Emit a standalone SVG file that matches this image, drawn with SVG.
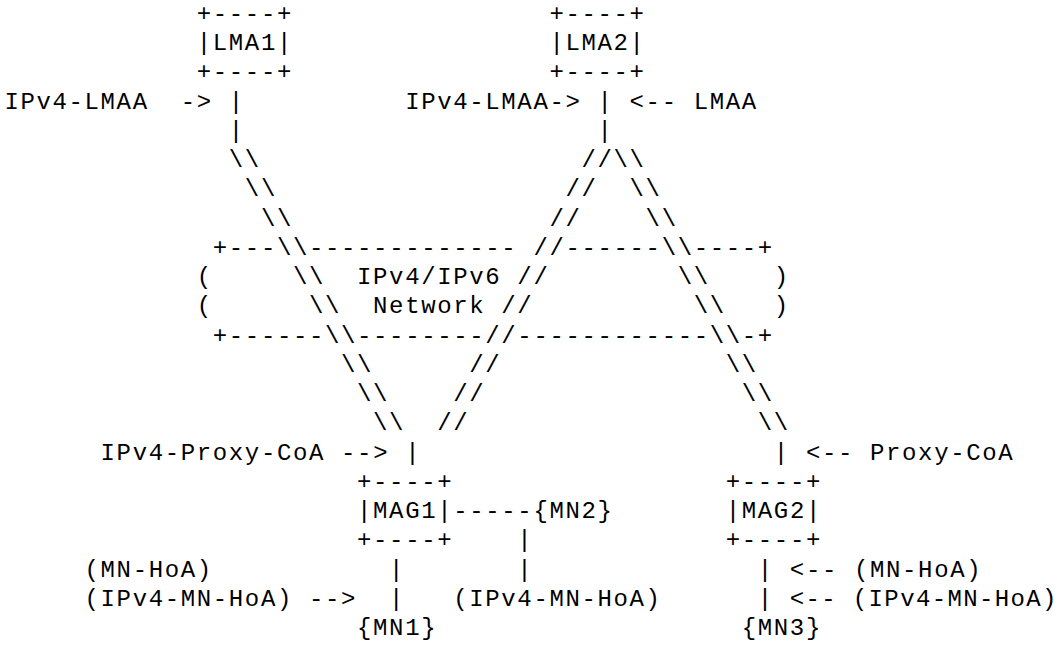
<svg xmlns="http://www.w3.org/2000/svg" width="1059" height="646" viewBox="0 0 1059 646">
<style>
text{font-family:"Liberation Mono","Courier New",monospace;font-size:24px;letter-spacing:1.63px;fill:#000;white-space:pre}
text.tight{letter-spacing:1.35px}
</style>
<rect width="1059" height="646" fill="#fff"/>
<g id="LMA1">
<text x="196.76" y="20.75">+----+</text>
<text x="196.76" y="50">|LMA1|</text>
<text x="196.76" y="79.25">+----+</text>
</g>
<g id="LMA2">
<text x="549.42" y="20.75">+----+</text>
<text x="549.42" y="50">|LMA2|</text>
<text x="549.42" y="79.25">+----+</text>
</g>
<g id="network">
<text x="212.79" y="254.75">+---</text>
<text x="308.97" y="254.75">-------------</text>
<text x="565.45" y="254.75">------</text>
<text x="693.69" y="254.75">----+</text>
<text x="196.76" y="284">(</text>
<text x="357.06" y="284">IPv4/IPv6</text>
<text x="773.84" y="284">)</text>
<text x="196.76" y="313.25">(</text>
<text x="373.09" y="313.25">Network</text>
<text x="773.84" y="313.25">)</text>
<text x="212.79" y="342.5">+------</text>
<text x="357.06" y="342.5">--------</text>
<text x="517.36" y="342.5">------------</text>
<text x="741.78" y="342.5">-+</text>
</g>
<g id="MAG1">
<text x="357.06" y="488.75">+----+</text>
<text x="357.06" y="518">|MAG1|</text>
<text x="357.06" y="547.25">+----+</text>
</g>
<g id="MAG2">
<text x="725.75" y="488.75">+----+</text>
<text x="725.75" y="518">|MAG2|</text>
<text x="725.75" y="547.25">+----+</text>
</g>
<g id="MN1"><text x="357.06" y="635">{MN1}</text></g>
<g id="MN2"><text x="533.39" y="518">{MN2}</text></g>
<g id="MN3"><text x="741.78" y="635">{MN3}</text></g>
<g id="labels">
<text x="4.4" y="108.5">IPv4-LMAA  -&gt;</text>
<text x="405.15" y="108.5">IPv4-LMAA-&gt;</text>
<text x="629.57" y="108.5">&lt;-- LMAA</text>
<text x="100.58" y="459.5">IPv4-Proxy-CoA --&gt;</text>
<text x="805.9" y="459.5">&lt;-- Proxy-CoA</text>
<text x="84.55" y="576.5">(MN-HoA)</text>
<text x="789.87" y="576.5">&lt;-- (MN-HoA)</text>
<text x="84.55" y="605.75">(IPv4-MN-HoA) --&gt;</text>
<text x="453.24" y="605.75">(IPv4-MN-HoA)</text>
<text class="tight" x="789.87" y="605.75">&lt;-- (IPv4-MN-HoA)</text>
</g>
<g id="connectors">
<text x="228.82" y="108.5">|</text>
<text x="597.51" y="108.5">|</text>
<text x="228.82" y="137.75">|</text>
<text x="597.51" y="137.75">|</text>
<text x="228.82" y="167">\\</text>
<text x="581.48" y="167">//</text>
<text x="613.54" y="167">\\</text>
<text x="244.85" y="196.25">\\</text>
<text x="565.45" y="196.25">//</text>
<text x="629.57" y="196.25">\\</text>
<text x="260.88" y="225.5">\\</text>
<text x="549.42" y="225.5">//</text>
<text x="645.6" y="225.5">\\</text>
<text x="276.91" y="254.75">\\</text>
<text x="533.39" y="254.75">//</text>
<text x="661.63" y="254.75">\\</text>
<text x="292.94" y="284">\\</text>
<text x="517.36" y="284">//</text>
<text x="677.66" y="284">\\</text>
<text x="308.97" y="313.25">\\</text>
<text x="501.33" y="313.25">//</text>
<text x="693.69" y="313.25">\\</text>
<text x="325" y="342.5">\\</text>
<text x="485.3" y="342.5">//</text>
<text x="709.72" y="342.5">\\</text>
<text x="341.03" y="371.75">\\</text>
<text x="469.27" y="371.75">//</text>
<text x="725.75" y="371.75">\\</text>
<text x="357.06" y="401">\\</text>
<text x="453.24" y="401">//</text>
<text x="741.78" y="401">\\</text>
<text x="373.09" y="430.25">\\</text>
<text x="437.21" y="430.25">//</text>
<text x="757.81" y="430.25">\\</text>
<text x="405.15" y="459.5">|</text>
<text x="773.84" y="459.5">|</text>
<text x="453.24" y="518">-----</text>
<text x="517.36" y="547.25">|</text>
<text x="389.12" y="576.5">|</text>
<text x="517.36" y="576.5">|</text>
<text x="757.81" y="576.5">|</text>
<text x="389.12" y="605.75">|</text>
<text x="757.81" y="605.75">|</text>
</g>
</svg>
